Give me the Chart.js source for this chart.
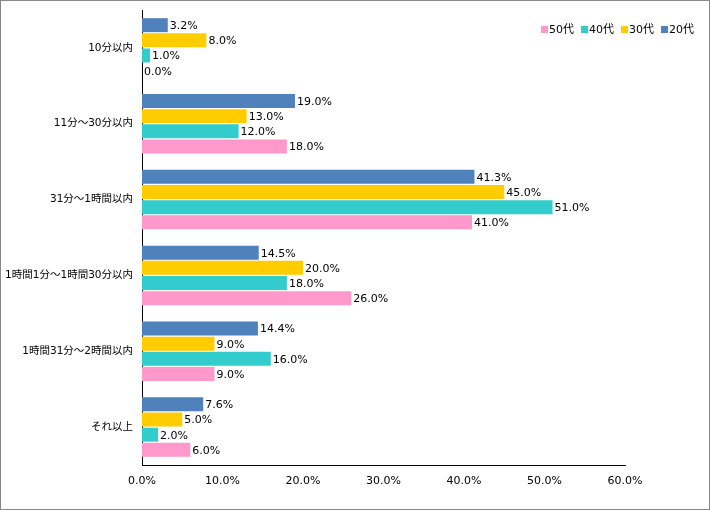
<!DOCTYPE html>
<html>
<head>
<meta charset="utf-8">
<script src="https://cdn.jsdelivr.net/npm/chart.js@4"></script>
<style>
html,body{margin:0;padding:0;background:#fff;}
#wrap{width:710px;height:510px;position:relative;}
</style>
</head>
<body>
<div id="wrap"><canvas id="c" width="710" height="510"></canvas></div>
<script>
const categories = ["10分以内", "11分～30分以内", "31分～1時間以内", "1時間1分～1時間30分以内", "1時間31分～2時間以内", "それ以上"];
const s20 = [3.2, 19.0, 41.3, 14.5, 14.4, 7.6];
const s30 = [8.0, 13.0, 45.0, 20.0, 9.0, 5.0];
const s40 = [1.0, 12.0, 51.0, 18.0, 16.0, 2.0];
const s50 = [0.0, 18.0, 41.0, 26.0, 9.0, 6.0];
const seriesNames = ["20代", "30代", "40代", "50代"];
const xTicks = [0, 10, 20, 30, 40, 50, 60];

const FONT = '"DejaVu Sans", "Noto Sans CJK JP", sans-serif';
const colors = ["#4F81BD", "#FFCC00", "#33CCCC", "#FF99CC"];

const labelPlugin = {
  id: 'vals',
  afterDatasetsDraw(chart) {
    const ctx = chart.ctx;
    ctx.save();
    ctx.font = '11px ' + FONT;
    ctx.fillStyle = '#000';
    ctx.textBaseline = 'middle';
    ctx.textAlign = 'left';
    chart.data.datasets.forEach((ds, i) => {
      const meta = chart.getDatasetMeta(i);
      meta.data.forEach((el, j) => {
        ctx.fillText(ds.data[j].toFixed(1) + '%', el.x + 2, el.y + 1);
      });
    });
    ctx.restore();
  }
};

const legendPlugin = {
  id: 'customLegend',
  afterDraw(chart) {
    const ctx = chart.ctx;
    ctx.save();
    ctx.font = '11px ' + FONT;
    ctx.textBaseline = 'middle';
    ctx.textAlign = 'left';
    let x = 541;
    const y = 29;
    const order = [3, 2, 1, 0];
    order.forEach(i => {
      ctx.fillStyle = colors[i];
      ctx.fillRect(x, y - 3, 7, 7);
      ctx.fillStyle = '#000';
      ctx.fillText(chart.data.datasets[i].label, x + 8, y + 1);
      x += 40;
    });
    ctx.strokeStyle = '#888';
    ctx.lineWidth = 1;
    ctx.strokeRect(0.5, 0.5, 709, 509);
    ctx.restore();
  }
};

const seriesData = [s20, s30, s40, s50];
new Chart(document.getElementById('c'), {
  type: 'bar',
  data: {
    labels: categories,
    datasets: seriesData.map((d, i) => ({
      label: seriesNames[i],
      data: d,
      backgroundColor: colors[i],
      borderWidth: 0,
      categoryPercentage: 0.8,
      barPercentage: 0.92
    }))
  },
  options: {
    indexAxis: 'y',
    responsive: false,
    animation: false,
    devicePixelRatio: 1,
    layout: { padding: { left: 0, right: 85, top: 10, bottom: 0 } },
    plugins: { legend: { display: false }, tooltip: { enabled: false } },
    scales: {
      x: {
        min: 0, max: 60,
        afterBuildTicks(scale) { scale.ticks = xTicks.map(v => ({ value: v })); },
        afterFit(scale) { scale.height = 45; scale.paddingLeft = 0; scale.paddingRight = 0; },
        grid: { display: false, drawTicks: false },
        border: { display: true, color: '#000', width: 1 },
        ticks: {
          padding: 10,
          color: '#000',
          font: { family: FONT, size: 11 },
          callback: v => Number(v).toFixed(1) + '%'
        }
      },
      y: {
        afterFit(scale) { scale.width = 142; scale.paddingTop = 0; scale.paddingBottom = 0; },
        grid: { display: false, drawTicks: false },
        border: { display: true, color: '#000', width: 1 },
        ticks: {
          padding: 9,
          color: '#000',
          font: { family: FONT, size: 10.5 }
        }
      }
    }
  },
  plugins: [labelPlugin, legendPlugin]
});
</script>
</body>
</html>
